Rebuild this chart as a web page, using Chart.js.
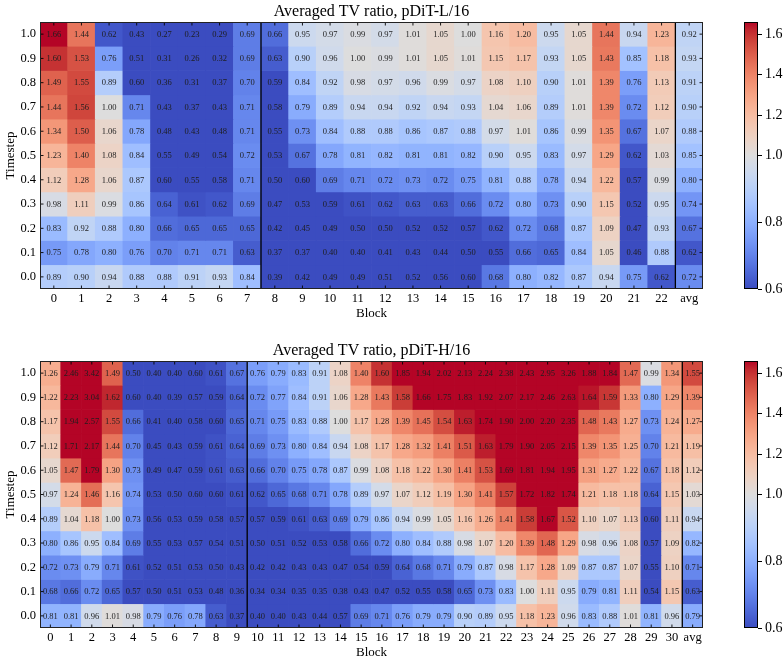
<!DOCTYPE html>
<html><head><meta charset="utf-8">
<script src="https://cdn.jsdelivr.net/npm/chart.js@4/dist/chart.umd.min.js"></script>
<style>
html,body{margin:0;padding:0;background:#fff;overflow:hidden;width:783px;height:663px;}
canvas{position:absolute;}
</style></head><body>
<canvas id="hL" width="720" height="330" style="left:0;top:0"></canvas>
<canvas id="cL" width="63" height="330" style="left:720px;top:0"></canvas>
<canvas id="hH" width="720" height="330" style="left:0;top:339px"></canvas>
<canvas id="cH" width="63" height="330" style="left:720px;top:339px"></canvas>
<script>
// ---------------- data ----------------
const timesteps = [1.0, 0.9, 0.8, 0.7, 0.6, 0.5, 0.4, 0.3, 0.2, 0.1, 0.0];
const blocksL = ['0','1','2','3','4','5','6','7','8','9','10','11','12','13','14','15','16','17','18','19','20','21','22','avg'];
const blocksH = ['0','1','2','3','4','5','6','7','8','9','10','11','12','13','14','15','16','17','18','19','20','21','22','23','24','25','26','27','28','29','30','avg'];
const cbTicks = [0.6, 0.8, 1.0, 1.2, 1.4, 1.6];

// pDiT-L/16 rows (timestep 1.0 ... 0.0), blocks 0-22 + avg
const L_10 = [1.66,1.44,0.62,0.43,0.27,0.23,0.29,0.69,0.66,0.95,0.97,0.99,0.97,1.01,1.05,1.00,1.16,1.20,0.95,1.05,1.44,0.94,1.23,0.92];
const L_09 = [1.60,1.53,0.76,0.51,0.31,0.26,0.32,0.69,0.63,0.90,0.96,1.00,0.99,1.01,1.05,1.01,1.15,1.17,0.93,1.05,1.43,0.85,1.18,0.93];
const L_08 = [1.49,1.55,0.89,0.60,0.36,0.31,0.37,0.70,0.59,0.84,0.92,0.98,0.97,0.96,0.99,0.97,1.08,1.10,0.90,1.01,1.39,0.76,1.13,0.91];
const L_07 = [1.44,1.56,1.00,0.71,0.43,0.37,0.43,0.71,0.58,0.79,0.89,0.94,0.94,0.92,0.94,0.93,1.04,1.06,0.89,1.01,1.39,0.72,1.12,0.90];
const L_06 = [1.34,1.50,1.06,0.78,0.48,0.43,0.48,0.71,0.55,0.73,0.84,0.88,0.88,0.86,0.87,0.88,0.97,1.01,0.86,0.99,1.35,0.67,1.07,0.88];
const L_05 = [1.23,1.40,1.08,0.84,0.55,0.49,0.54,0.72,0.53,0.67,0.78,0.81,0.82,0.81,0.81,0.82,0.90,0.95,0.83,0.97,1.29,0.62,1.03,0.85];
const L_04 = [1.12,1.28,1.06,0.87,0.60,0.55,0.58,0.71,0.50,0.60,0.69,0.71,0.72,0.73,0.72,0.75,0.81,0.88,0.78,0.94,1.22,0.57,0.99,0.80];
const L_03 = [0.98,1.11,0.99,0.86,0.64,0.61,0.62,0.69,0.47,0.53,0.59,0.61,0.62,0.63,0.63,0.66,0.72,0.80,0.73,0.90,1.15,0.52,0.95,0.74];
const L_02 = [0.83,0.92,0.88,0.80,0.66,0.65,0.65,0.65,0.42,0.45,0.49,0.50,0.50,0.52,0.52,0.57,0.62,0.72,0.68,0.87,1.09,0.47,0.93,0.67];
const L_01 = [0.75,0.78,0.80,0.76,0.70,0.71,0.71,0.63,0.37,0.37,0.40,0.40,0.41,0.43,0.44,0.50,0.55,0.66,0.65,0.84,1.05,0.46,0.88,0.62];
const L_00 = [0.89,0.90,0.94,0.88,0.88,0.91,0.93,0.84,0.39,0.42,0.49,0.49,0.51,0.52,0.56,0.60,0.68,0.80,0.82,0.87,0.94,0.75,0.62,0.72];

// pDiT-H/16 rows (timestep 1.0 ... 0.0), blocks 0-30 + avg
const H_10 = [1.26,2.46,3.42,1.49,0.50,0.40,0.40,0.60,0.61,0.67,0.76,0.79,0.83,0.91,1.08,1.40,1.60,1.85,1.94,2.02,2.13,2.24,2.38,2.43,2.95,3.26,1.88,1.84,1.47,0.99,1.34,1.55];
const H_09 = [1.22,2.23,3.04,1.62,0.60,0.40,0.39,0.57,0.59,0.64,0.72,0.77,0.84,0.91,1.06,1.28,1.43,1.58,1.66,1.75,1.83,1.92,2.07,2.17,2.46,2.63,1.64,1.59,1.33,0.80,1.29,1.39];
const H_08 = [1.17,1.94,2.57,1.55,0.66,0.41,0.40,0.58,0.60,0.65,0.71,0.75,0.83,0.88,1.00,1.17,1.28,1.39,1.45,1.54,1.63,1.74,1.90,2.00,2.20,2.35,1.48,1.43,1.27,0.73,1.24,1.27];
const H_07 = [1.12,1.71,2.17,1.44,0.70,0.45,0.43,0.59,0.61,0.64,0.69,0.73,0.80,0.84,0.94,1.08,1.17,1.28,1.32,1.41,1.51,1.63,1.79,1.90,2.05,2.15,1.39,1.35,1.25,0.70,1.21,1.19];
const H_06 = [1.05,1.47,1.79,1.30,0.73,0.49,0.47,0.59,0.61,0.63,0.66,0.70,0.75,0.78,0.87,0.99,1.08,1.18,1.22,1.30,1.41,1.53,1.69,1.81,1.94,1.95,1.31,1.27,1.22,0.67,1.18,1.12];
const H_05 = [0.97,1.24,1.46,1.16,0.74,0.53,0.50,0.60,0.60,0.61,0.62,0.65,0.68,0.71,0.78,0.89,0.97,1.07,1.12,1.19,1.30,1.41,1.57,1.72,1.82,1.74,1.21,1.18,1.18,0.64,1.15,1.03];
const H_04 = [0.89,1.04,1.18,1.00,0.73,0.56,0.53,0.59,0.58,0.57,0.57,0.59,0.61,0.63,0.69,0.79,0.86,0.94,0.99,1.05,1.16,1.26,1.41,1.58,1.67,1.52,1.10,1.07,1.13,0.60,1.11,0.94];
const H_03 = [0.80,0.86,0.95,0.84,0.69,0.55,0.53,0.57,0.54,0.51,0.50,0.51,0.52,0.53,0.58,0.66,0.72,0.80,0.84,0.88,0.98,1.07,1.20,1.39,1.48,1.29,0.98,0.96,1.08,0.57,1.09,0.82];
const H_02 = [0.72,0.73,0.79,0.71,0.61,0.52,0.51,0.53,0.50,0.43,0.42,0.42,0.43,0.43,0.47,0.54,0.59,0.64,0.68,0.71,0.79,0.87,0.98,1.17,1.28,1.09,0.87,0.87,1.07,0.55,1.10,0.71];
const H_01 = [0.68,0.66,0.72,0.65,0.57,0.50,0.51,0.53,0.48,0.36,0.34,0.34,0.35,0.35,0.38,0.43,0.47,0.52,0.55,0.58,0.65,0.73,0.83,1.00,1.11,0.95,0.79,0.81,1.11,0.54,1.15,0.63];
const H_00 = [0.81,0.81,0.96,1.01,0.98,0.79,0.76,0.78,0.63,0.37,0.40,0.40,0.43,0.44,0.57,0.69,0.71,0.76,0.79,0.79,0.90,0.89,0.95,1.18,1.23,0.96,0.83,0.88,1.01,0.81,0.96,0.79];

const rowsL = [L_10,L_09,L_08,L_07,L_06,L_05,L_04,L_03,L_02,L_01,L_00];
const rowsH = [H_10,H_09,H_08,H_07,H_06,H_05,H_04,H_03,H_02,H_01,H_00];

// ---------------- colormap (coolwarm, two-slope norm) ----------------
const VMIN = 0.6, VCENTER = 1.0, VMAX = 1.66;
const CW = [[59,76,192],[68,90,204],[77,104,215],[87,117,225],[98,130,234],[108,142,241],[119,154,247],[130,165,251],[141,176,254],[152,185,255],[163,194,255],[174,201,253],[184,208,249],[194,213,244],[204,217,238],[213,219,230],[221,221,221],[229,216,209],[236,211,197],[241,204,185],[245,196,173],[247,187,160],[247,177,148],[247,166,135],[244,154,123],[241,141,111],[236,127,99],[229,112,88],[222,96,77],[213,80,66],[203,62,56],[192,40,47],[180,4,38]];
function cmap(t){
  t = Math.max(0, Math.min(1, t));
  const f = t * 32, i = Math.min(31, Math.floor(f)), r = f - i;
  const a = CW[i], b = CW[i+1];
  return 'rgb(' + [0,1,2].map(k => Math.round(a[k] + (b[k]-a[k])*r)).join(',') + ')';
}
function norm(v){
  return v < VCENTER ? Math.max(0, (v-VMIN)/(VCENTER-VMIN)*0.5) : Math.min(1, 0.5 + (v-VCENTER)/(VMAX-VCENTER)*0.5);
}

const FAM = "'Liberation Serif','DejaVu Serif',serif";
Chart.defaults.color = '#000';
Chart.defaults.font.family = FAM;

const heatPlugin = {
  id: 'heat',
  afterDatasetsDraw(chart, args, opts) {
    const ctx = chart.ctx, a = chart.chartArea, xs = chart.scales.x, ys = chart.scales.y;
    ctx.save();
    ctx.font = opts.cellFont + 'px ' + FAM;
    ctx.fillStyle = '#1e1e1e'; ctx.textAlign = 'center'; ctx.textBaseline = 'middle';
    chart.data.datasets.forEach((ds, i) => {
      chart.getDatasetMeta(i).data.forEach((el, j) => {
        ctx.fillText(ds.vals[j].toFixed(2), el.x, (el.y + el.base) / 2 + 0.5);
      });
    });
    // inward ticks
    const tl = 3.5;
    ctx.strokeStyle = '#000'; ctx.lineWidth = 0.9;
    ctx.beginPath();
    xs.ticks.forEach((t, i) => {
      const x = xs.getPixelForTick(i);
      ctx.moveTo(x, a.top); ctx.lineTo(x, a.top + tl);
      ctx.moveTo(x, a.bottom); ctx.lineTo(x, a.bottom - tl);
    });
    ys.ticks.forEach(t => {
      const y = ys.getPixelForValue(t.value);
      ctx.moveTo(a.left, y); ctx.lineTo(a.left + tl, y);
      ctx.moveTo(a.right, y); ctx.lineTo(a.right - tl, y);
    });
    ctx.stroke();
    // separators
    ctx.lineWidth = 1.3;
    ctx.beginPath();
    opts.seps.forEach(k => {
      const x = (xs.getPixelForValue(k - 1) + xs.getPixelForValue(k)) / 2;
      ctx.moveTo(x, a.top); ctx.lineTo(x, a.bottom);
    });
    ctx.stroke();
    // frame
    ctx.lineWidth = 1;
    ctx.strokeStyle = '#222';
    ctx.strokeRect(a.left + 0.5, a.top + 0.5, a.width - 1, a.height - 1);
    ctx.restore();
  }
};

function heatmap(id, title, blocks, rows, seps) {
  const datasets = rows.map((vals, r) => ({
    data: vals.map(() => [timesteps[r] - 0.05, timesteps[r] + 0.05]),
    vals: vals,
    backgroundColor: vals.map(v => cmap(norm(v))),
    borderWidth: 0,
    grouped: false,
    barPercentage: 1,
    categoryPercentage: 1
  }));
  new Chart(document.getElementById(id), {
    type: 'bar',
    data: { labels: blocks, datasets },
    options: {
      responsive: false, animation: false, events: [],
      layout: { padding: { left: 0, right: 17, top: 0, bottom: 5 } },
      plugins: {
        legend: { display: false }, tooltip: { enabled: false },
        title: { display: true, text: title, fullSize: false, color: '#000',
                 font: { size: 16, family: FAM, weight: 'normal' }, padding: { top: 2, bottom: 0.8 } },
        heat: { seps: seps, cellFont: 8.5 }
      },
      scales: {
        x: {
          type: 'category', offset: true,
          grid: { display: false, drawTicks: false }, border: { display: false },
          ticks: { autoSkip: false, maxRotation: 0, padding: 2, color: '#000', font: { size: 12.5, family: FAM } },
          title: { display: true, text: 'Block', color: '#000', font: { size: 13, family: FAM }, padding: { top: 0, bottom: 4 } },
          afterFit: s => { s.height = 36; }
        },
        y: {
          type: 'linear', min: -0.05, max: 1.05,
          grid: { display: false, drawTicks: false }, border: { display: false },
          afterBuildTicks: s => { s.ticks = timesteps.map(v => ({ value: v })); },
          ticks: { padding: 4, color: '#000', font: { size: 12.5, family: FAM }, callback: v => Number(v).toFixed(1) },
          title: { display: true, text: 'Timestep', color: '#000', font: { size: 13, family: FAM }, padding: { top: 3, bottom: 0 } },
          afterFit: s => { s.width = 40; }
        }
      }
    },
    plugins: [heatPlugin]
  });
}

const framePlugin = {
  id: 'cbframe',
  afterDraw(chart) {
    const ctx = chart.ctx, a = chart.chartArea;
    ctx.save(); ctx.strokeStyle = '#000'; ctx.lineWidth = 1;
    ctx.strokeRect(a.left + 0.5, a.top + 0.5, a.width - 1, a.height - 1);
    ctx.restore();
  }
};

function colorbar(id) {
  new Chart(document.getElementById(id), {
    type: 'bar',
    data: { labels: [''], datasets: [{
      data: [[0, 1]],
      borderWidth: 0, barPercentage: 1, categoryPercentage: 1,
      backgroundColor: (c) => {
        const ch = c.chart, a = ch.chartArea;
        if (!a) return '#ddd';
        const ys = ch.scales.y;
        const g = ch.ctx.createLinearGradient(0, ys.getPixelForValue(0), 0, ys.getPixelForValue(1));
        CW.forEach((col, i) => g.addColorStop(i / 32, 'rgb(' + col.join(',') + ')'));
        return g;
      }
    }] },
    options: {
      responsive: false, animation: false, events: [],
      layout: { padding: { left: 24, top: 22, bottom: 41, right: 0 } },
      plugins: { legend: { display: false }, tooltip: { enabled: false } },
      scales: {
        x: { display: false },
        y: {
          position: 'right', min: 0, max: 1,
          afterBuildTicks: s => { s.ticks = cbTicks.map(v => ({ value: norm(v) })); },
          afterFit: s => { s.width = 25; },
          ticks: { padding: 3, color: '#000', font: { size: 14, family: FAM }, callback: (v, i) => cbTicks[i].toFixed(1) },
          grid: { drawOnChartArea: false, drawTicks: true, tickLength: 4, color: '#000', lineWidth: 1 },
          border: { display: false }
        }
      }
    },
    plugins: [framePlugin]
  });
}

heatmap('hL', 'Averaged TV ratio, pDiT-L/16', blocksL, rowsL, [8, 23]);
colorbar('cL');
heatmap('hH', 'Averaged TV ratio, pDiT-H/16', blocksH, rowsH, [10, 31]);
colorbar('cH');
</script>
</body></html>
